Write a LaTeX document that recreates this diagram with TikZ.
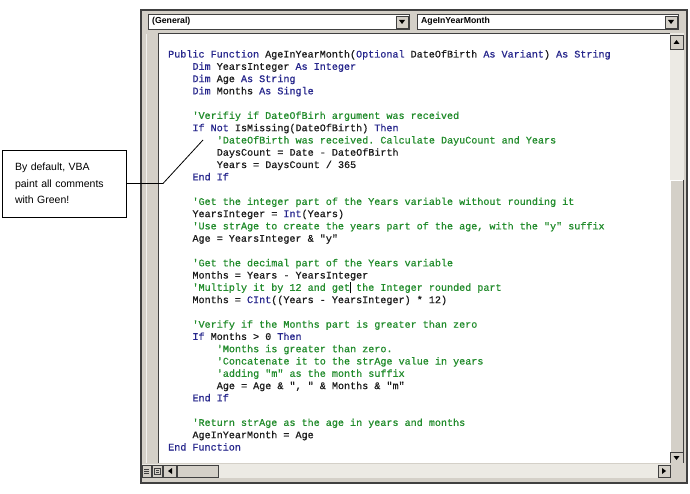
\documentclass[tikz,border=0pt]{standalone}
\usepackage{fontspec}
\setsansfont{Liberation Sans}
\setmonofont{Liberation Mono}[FakeBold=0.7]
\usepackage{xcolor}
\usepackage{tikz}
\usetikzlibrary{positioning,calc}

\definecolor{vbablue}{RGB}{38,38,140}
\definecolor{vbagreen}{RGB}{34,140,44}
\definecolor{vbatext}{RGB}{28,28,28}
\definecolor{chrome}{RGB}{212,208,200}
\definecolor{trough}{RGB}{236,234,228}
\definecolor{frameline}{RGB}{64,64,64}

\newcommand{\kw}[1]{\textcolor{vbablue}{#1}}
\newcommand{\cmt}[1]{\textcolor{vbagreen}{#1}}

\begin{document}
\begin{tikzpicture}[x=1pt, y=-1pt,
        codeline/.style={anchor=base west, inner sep=0pt, font=\fontsize{10.1}{12}\ttfamily, text=vbatext},
        combolabel/.style={anchor=west, inner sep=0pt, font=\fontsize{8.7}{10}\sffamily\bfseries},
        notebox/.style={draw=black, line width=0.8pt, fill=white, minimum width=124pt, minimum height=67pt,
                        text width=98pt, inner sep=0pt, align=left, font=\fontsize{10.5}{16.5}\sffamily},
        scrollbtn/.style={fill=chrome, draw=frameline, line width=0.5pt}
    ]
    \useasboundingbox (0,0) rectangle (690,494);

    % Window
    \fill[chrome] (141,10) rectangle (687,483);
    \draw[frameline, line width=1.2pt] (141,10) rectangle (687,483);
    \draw[white!70!chrome] (146,34) -- (146,463);

    % Combo boxes
    \draw[fill=white, draw=frameline, line width=0.6pt] (148,14) rectangle (409,29);
    \draw[scrollbtn] (396,16) rectangle (408,28);
    \fill (399,20) -- (405,20) -- (402,24) -- cycle;
    \draw[fill=white, draw=frameline, line width=0.6pt] (417,14) rectangle (678,29);
    \draw[scrollbtn] (665,16) rectangle (677,28);
    \fill (668,20) -- (674,20) -- (671,24) -- cycle;
    \node[combolabel] (general) at (152,21.5) {(General)};
    \node[combolabel] (procname) at (421,21.5) {AgeInYearMonth};

    % Code pane
    \fill[white] (158,33) rectangle (670,463);
    \draw[frameline, line width=0.8pt] (158,463) -- (158,33) -- (670,33);

    % Vertical scroll bar
    \fill[trough] (670,33.4) rectangle (684,463);
    \fill[chrome] (670,180) rectangle (683,452);
    \draw[white] (670.5,452) -- (670.5,180.5) -- (683,180.5);
    \draw[frameline] (683,180) -- (683,452) -- (670,452);
    \draw[scrollbtn] (670,35) rectangle (683,49);
    \fill (673.5,44) -- (679.5,44) -- (676.5,40) -- cycle;
    \draw[scrollbtn] (670,452) rectangle (683,463);
    \fill (673.5,456) -- (679.5,456) -- (676.5,460) -- cycle;

    % Horizontal scroll bar
    \fill[trough] (141.6,464) rectangle (670,478);
    \fill[chrome] (670,463) rectangle (686,478);
    \draw[scrollbtn] (142,465) rectangle (151,477);
    \draw[frameline] (144,469) -- (149,469) (144,471) -- (149,471) (144,473) -- (149,473);
    \draw[scrollbtn] (152,465) rectangle (162,477);
    \draw[frameline] (154,468) rectangle (160,474) (156,470) -- (159,470) (156,472) -- (159,472);
    \draw[scrollbtn] (163,465) rectangle (176,477);
    \fill (168,471) -- (172,468) -- (172,474) -- cycle;
    \draw[scrollbtn] (177,465) rectangle (218,477);
    \draw[scrollbtn] (658,465) rectangle (670,477);
    \fill (666,471) -- (662,468) -- (662,474) -- cycle;

    % Nodes
    \node[codeline] (l0) at (168,57.5) {\kw{Public Function} AgeInYearMonth(\kw{Optional} DateOfBirth \kw{As Variant}) \kw{As String}};
    \node[codeline] (l1) at (192.3,69.8) {\kw{Dim} YearsInteger \kw{As Integer}};
    \node[codeline] (l2) at (192.3,82.1) {\kw{Dim} Age \kw{As String}};
    \node[codeline] (l3) at (192.3,94.3) {\kw{Dim} Months \kw{As Single}};

    \node[codeline] (l5) at (192.3,118.9) {\cmt{'Verifiy if DateOfBirh argument was received}};
    \node[codeline] (l6) at (192.3,131.2) {\kw{If Not} IsMissing(DateOfBirth) \kw{Then}};
    \node[codeline] (l7) at (216.6,143.5) {\cmt{'DateOfBirth was received. Calculate DayuCount and Years}};
    \node[codeline] (l8) at (216.6,155.7) {DaysCount = Date - DateOfBirth};
    \node[codeline] (l9) at (216.6,168.0) {Years = DaysCount / 365};
    \node[codeline] (l10) at (192.3,180.3) {\kw{End If}};

    \node[codeline] (l12) at (192.3,204.9) {\cmt{'Get the integer part of the Years variable without rounding it}};
    \node[codeline] (l13) at (192.3,217.1) {YearsInteger = \kw{Int}(Years)};
    \node[codeline] (l14) at (192.3,229.4) {\cmt{'Use strAge to create the years part of the age, with the "y" suffix}};
    \node[codeline] (l15) at (192.3,241.7) {Age = YearsInteger \& "y"};

    \node[codeline] (l17) at (192.3,266.3) {\cmt{'Get the decimal part of the Years variable}};
    \node[codeline] (l18) at (192.3,278.5) {Months = Years - YearsInteger};
    \node[codeline] (l19) at (192.3,290.8) {\cmt{'Multiply it by 12 and get\rlap{\textcolor{black}{\rule[-2.5pt]{0.7pt}{11pt}}} the Integer rounded part}};
    \node[codeline] (l20) at (192.3,303.1) {Months = \kw{CInt}((Years - YearsInteger) * 12)};

    \node[codeline] (l22) at (192.3,327.7) {\cmt{'Verify if the Months part is greater than zero}};
    \node[codeline] (l23) at (192.3,339.9) {\kw{If} Months > 0 \kw{Then}};
    \node[codeline] (l24) at (216.6,352.2) {\cmt{'Months is greater than zero.}};
    \node[codeline] (l25) at (216.6,364.5) {\cmt{'Concatenate it to the strAge value in years}};
    \node[codeline] (l26) at (216.6,376.8) {\cmt{'adding "m" as the month suffix}};
    \node[codeline] (l27) at (216.6,389.1) {Age = Age \& ", " \& Months \& "m"};
    \node[codeline] (l28) at (192.3,401.3) {\kw{End If}};

    \node[codeline] (l30) at (192.3,425.9) {\cmt{'Return strAge as the age in years and months}};
    \node[codeline] (l31) at (192.3,438.2) {AgeInYearMonth = Age};
    \node[codeline] (l32) at (168,450.5) {\kw{End Function}};

    \node[notebox] (note) at (64,183.5) {By default, VBA\\paint all comments\\with Green!};
    \coordinate (bend) at (163,183.5);
    \coordinate (tip) at (203,140);

    % Edges
    \draw[-, line width=0.8pt] (note.east) -- (bend) -- (tip);
\end{tikzpicture}
\end{document}
